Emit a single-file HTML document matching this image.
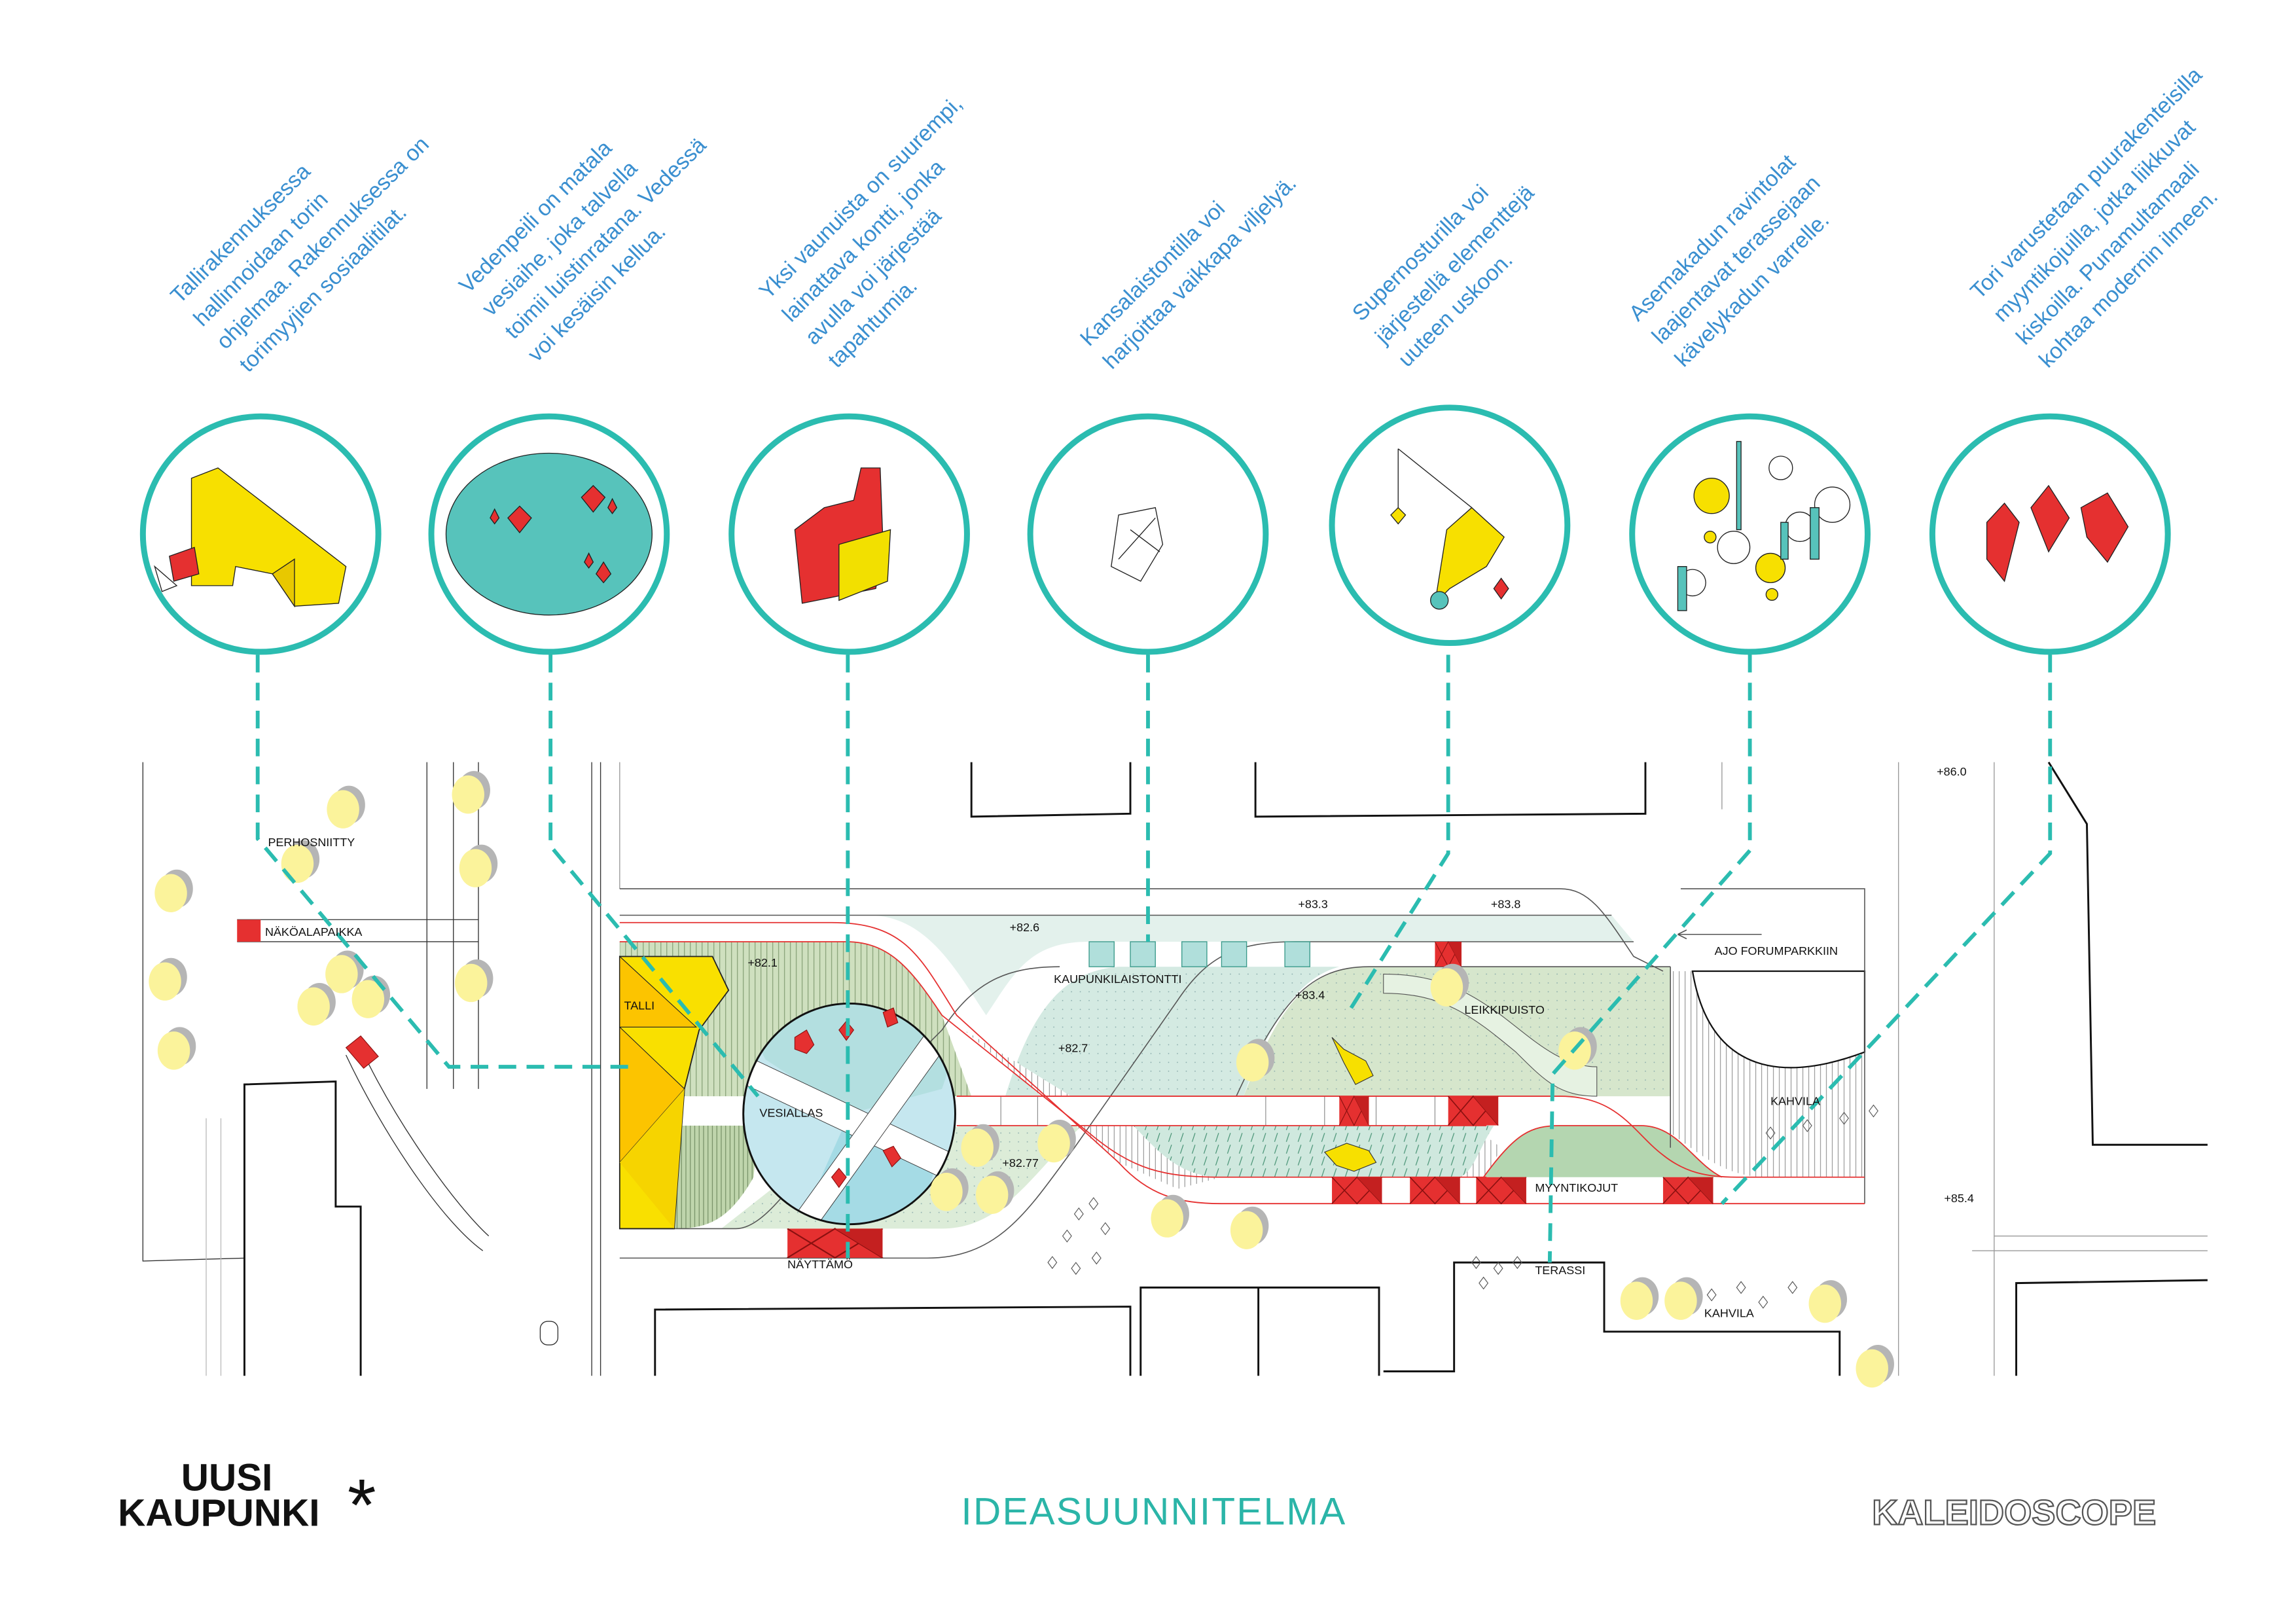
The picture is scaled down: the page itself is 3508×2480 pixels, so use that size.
<!DOCTYPE html>
<html><head><meta charset="utf-8"><style>
html,body{margin:0;padding:0;background:#fff;}
svg{display:block;}
text{font-family:"Liberation Sans",sans-serif;}
.lbl{font-size:8px;fill:#111;}
.q{font-size:15px;fill:#3a8fd0;}
</style></head><body>
<svg xmlns="http://www.w3.org/2000/svg" width="3508" height="2480" viewBox="0 0 1560 1103">
<defs>
<pattern id="vh" width="4" height="4" patternUnits="userSpaceOnUse"><rect width="4" height="4" fill="#cfe0bf"/><line x1="1" y1="0" x2="1" y2="4" stroke="#7f9a6f" stroke-width="0.5"/></pattern>
<pattern id="vh2" width="3" height="4" patternUnits="userSpaceOnUse"><rect width="3" height="4" fill="#bfd5ac"/><line x1="1" y1="0" x2="1" y2="4" stroke="#6f8a60" stroke-width="0.5"/></pattern>
<pattern id="vw" width="4" height="4" patternUnits="userSpaceOnUse"><rect width="4" height="4" fill="#fff"/><line x1="1" y1="0" x2="1" y2="4" stroke="#777" stroke-width="0.4"/></pattern>
<pattern id="dh" width="8" height="8" patternUnits="userSpaceOnUse"><rect width="8" height="8" fill="#cfe8de"/><line x1="2" y1="8" x2="4" y2="2" stroke="#3a8a6a" stroke-width="0.5"/></pattern>
<pattern id="dt" width="6" height="6" patternUnits="userSpaceOnUse"><rect width="6" height="6" fill="#d6e6cc"/><circle cx="2" cy="2" r="0.4" fill="#8aa"/></pattern>
<pattern id="dt2" width="6" height="6" patternUnits="userSpaceOnUse"><rect width="6" height="6" fill="#d4eae2"/><circle cx="2" cy="2" r="0.4" fill="#8aa"/></pattern>
<pattern id="dt3" width="6" height="6" patternUnits="userSpaceOnUse"><rect width="6" height="6" fill="#dcecd8"/><circle cx="2" cy="2" r="0.4" fill="#8aa"/></pattern>
<clipPath id="cc"><ellipse cx="577" cy="757" rx="72" ry="75"/></clipPath>
<g id="tree"><ellipse cx="4" cy="-3" rx="11" ry="13" fill="#b5b5b5"/><ellipse cx="0" cy="0" rx="11" ry="13" fill="#fbf39b"/></g>
<g id="kiosk"><rect width="34" height="18" fill="#e53030"/><path d="M0 0 L17 18 L34 0 M0 18 L17 0 L34 18" stroke="#8a1010" stroke-width="0.7" fill="none"/><path d="M17 0 L34 18 L34 0Z" fill="#c42020"/></g>
</defs>

<!-- quotes -->
<g class="q">
<text transform="translate(122,207) rotate(-45)"><tspan x="0" y="0">Tallirakennuksessa</tspan><tspan x="0" y="22">hallinnoidaan torin</tspan><tspan x="0" y="44">ohjelmaa. Rakennuksessa on</tspan><tspan x="0" y="66">torimyyjien sosiaalitilat.</tspan></text>
<text transform="translate(318,200) rotate(-45)"><tspan x="0" y="0">Vedenpeili on matala</tspan><tspan x="0" y="22">vesiaihe, joka talvella</tspan><tspan x="0" y="44">toimii luistinratana. Vedessä</tspan><tspan x="0" y="66">voi kesäisin kellua.</tspan></text>
<text transform="translate(522,204) rotate(-45)"><tspan x="0" y="0">Yksi vaunuista on suurempi,</tspan><tspan x="0" y="22">lainattava kontti, jonka</tspan><tspan x="0" y="44">avulla voi järjestää</tspan><tspan x="0" y="66">tapahtumia.</tspan></text>
<text transform="translate(740,236) rotate(-45)"><tspan x="0" y="0">Kansalaistontilla voi</tspan><tspan x="0" y="22">harjoittaa vaikkapa viljelyä.</tspan></text>
<text transform="translate(925,219) rotate(-45)"><tspan x="0" y="0">Supernosturilla voi</tspan><tspan x="0" y="22">järjestellä elementtejä</tspan><tspan x="0" y="44">uuteen uskoon.</tspan></text>
<text transform="translate(1113,219) rotate(-45)"><tspan x="0" y="0">Asemakadun ravintolat</tspan><tspan x="0" y="22">laajentavat terassejaan</tspan><tspan x="0" y="44">kävelykadun varrelle.</tspan></text>
<text transform="translate(1345,204) rotate(-45)"><tspan x="0" y="0">Tori varustetaan puurakenteisilla</tspan><tspan x="0" y="22">myyntikojuilla, jotka liikkuvat</tspan><tspan x="0" y="44">kiskoilla. Punamultamaali</tspan><tspan x="0" y="66">kohtaa modernin ilmeen.</tspan></text>
</g>

<!-- circles -->
<g fill="none" stroke="#2bbcb0" stroke-width="4">
<circle cx="177" cy="363" r="80"/><circle cx="373" cy="363" r="80"/><circle cx="577" cy="363" r="80"/><circle cx="780" cy="363" r="80"/><circle cx="985" cy="357" r="80"/><circle cx="1189" cy="363" r="80"/><circle cx="1393" cy="363" r="80"/>
</g>
<!-- icons -->
<g stroke="#222" stroke-width="0.6">
<path d="M130 325 L148 318 L235 385 L230 410 L200 412 L185 390 L160 385 L158 398 L130 398Z" fill="#f7e000"/>
<path d="M185 390 L200 412 L200 380Z" fill="#e8c800"/>
<path d="M115 378 L132 372 L135 390 L118 395Z" fill="#e53030"/>
<path d="M105 385 L120 398 L110 402Z" fill="#fff"/>
<ellipse cx="373" cy="363" rx="70" ry="55" fill="#57c3bb"/>
<path d="M345 352 l8-8 l8 8 l-8 10z M395 338 l8-8 l8 8 l-8 10z M333 352 l3-6 l3 6 l-3 4z M413 345 l3-6 l3 6 l-3 4z M405 390 l5-8 l5 8 l-5 6z M397 382 l3-6 l3 6 l-3 4z" fill="#e53030"/>
<path d="M540 360 L560 345 L580 340 L585 318 L598 318 L600 372 L595 400 L545 410Z" fill="#e53030"/>
<path d="M570 370 L605 360 L603 395 L570 408Z" fill="#f2e000"/>
<path d="M760 350 L785 345 L790 370 L775 395 L755 385Z M768 360 L788 375 M760 380 L785 352" fill="none"/>
<path d="M975 410 L983 360 L1000 345 L1022 365 L1010 385 L985 400Z" fill="#f7e000"/>
<path d="M950 305 L1000 345 M950 305 L950 350" fill="none"/>
<circle cx="978" cy="408" r="6" fill="#57c3bb"/>
<path d="M945 350 l5-5 l5 5 l-5 6z" fill="#f7e000"/>
<path d="M1015 400 l5-7 l5 7 l-5 7z" fill="#e53030"/>
<circle cx="1163" cy="337" r="12" fill="#f7e000"/><circle cx="1203" cy="386" r="10" fill="#f7e000"/><circle cx="1162" cy="365" r="4" fill="#f7e000"/><circle cx="1204" cy="404" r="4" fill="#f7e000"/>
<circle cx="1245" cy="343" r="12" fill="#fff"/><circle cx="1223" cy="358" r="10" fill="#fff"/><circle cx="1178" cy="372" r="11" fill="#fff"/><circle cx="1150" cy="396" r="9" fill="#fff"/><circle cx="1210" cy="318" r="8" fill="#fff"/>
<path d="M1180 300 l3 0 l0 60 l-3 0z M1230 345 l6 0 l0 35 l-6 0z M1140 385 l6 0 l0 30 l-6 0z M1210 355 l5 0 l0 25 l-5 0z" fill="#57c3bb"/>
<path d="M1350 355 L1362 342 L1372 355 L1362 395 L1350 380Z" fill="#e53030"/>
<path d="M1380 345 L1392 330 L1406 352 L1392 375 Z" fill="#e53030"/>
<path d="M1414 345 L1432 335 L1446 358 L1432 382 L1418 365Z" fill="#e53030"/>
</g>

<!-- buildings / context -->
<g fill="none" stroke="#333" stroke-width="0.6">
<path d="M97 518 L97 857 L166 855"/>
<path d="M290 518 L290 740"/><path d="M308 518 L308 740 M325 518 L325 740"/>
<path d="M402 518 L402 935 M408 518 L408 935"/>
<path d="M161 625 L325 625 M161 640 L325 640"/>
<path d="M235 717 C260 770 300 830 328 850 M245 712 C270 765 310 820 332 840"/>
<path d="M421 518 L421 604 M1170 518 L1170 550 M1290 518 L1290 935" stroke="#999"/>
<path d="M1355 518 L1355 935" stroke="#999"/>
<path d="M1340 850 L1500 850 M1355 840 L1500 840" stroke="#999"/>
<path d="M140 760 L140 935 M150 760 L150 935" stroke="#bbb"/>
<rect x="367" y="898" width="12" height="16" rx="5"/>
</g>
<g fill="none" stroke="#111" stroke-width="1.3">
<path d="M166 935 L166 737 L228 735 L228 820 L245 820 L245 935"/>
<path d="M660 518 L660 555 L768 553 L768 518"/>
<path d="M853 518 L853 555 L1118 553 L1118 518"/>
<path d="M1392 518 L1418 560 L1422 778 L1500 778"/>
<path d="M445 935 L445 890 L768 888 L768 935"/>
<path d="M775 935 L775 875 L937 875 L937 935 M855 875 L855 935"/>
<path d="M940 932 L988 932 L988 858 L1090 858 L1090 905 L1250 905 L1250 935"/>
<path d="M1370 935 L1370 872 L1500 870"/>
</g>

<!-- plaza -->
<path d="M421 604 L1060 604 C1080 604 1090 615 1100 635 L1130 660 L1135 818 L421 855Z" fill="#fff"/>
<path d="M590 622 L1095 622 L1110 640 L740 640 C700 640 690 660 670 690 C650 660 630 622 590 622Z" fill="#e3f1ec"/>
<path d="M421 640 L575 640 C605 640 620 660 640 690 L660 745 L421 745Z" fill="url(#vh)"/>
<path d="M458 765 L515 765 L512 800 C495 830 480 835 458 835Z" fill="url(#vh2)"/>
<path d="M490 835 L640 835 C680 835 700 800 735 765 L655 765 L560 780 Z" fill="url(#dt3)"/>
<path d="M683 745 C700 690 720 660 760 657 L910 657 C880 665 860 700 845 745 Z" fill="url(#dt2)"/>
<path d="M845 745 C870 680 890 660 925 657 L1135 657 L1135 745 Z" fill="url(#dt)"/>
<path d="M655 700 L760 790 L800 808 L830 800 L1010 800 L1020 780 L1000 765 L760 765 Z" fill="url(#vw)"/>
<path d="M770 765 L1015 765 C1005 780 1000 800 990 800 L830 800 C800 800 785 780 770 765Z" fill="url(#dh)"/>
<path d="M1008 800 C1030 770 1040 765 1060 765 L1115 765 C1140 765 1150 790 1170 800 Z" fill="#b4d6b0"/>
<path d="M940 675 C980 675 1000 690 1030 715 C1050 735 1060 745 1085 745 L1085 725 C1060 725 1040 705 1020 690 C995 672 975 662 940 662Z" fill="#e6f2e2" stroke="#555" stroke-width="0.5"/>
<path d="M1135 660 L1267 660 L1267 800 L1200 800 C1170 800 1150 780 1135 770Z" fill="url(#vw)"/>
<path d="M1150 660 C1160 720 1200 740 1267 715 L1267 660Z" fill="#fff" stroke="#111" stroke-width="1"/>
<!-- white road strips -->
<rect x="650" y="745" width="410" height="20" fill="#fff"/>
<g stroke="#888" stroke-width="0.5"><path d="M680 745v20 M705 745v20 M860 745v20 M900 745v20 M935 745v20 M975 745v20"/></g>
<!-- grey road lines -->
<g fill="none" stroke="#555" stroke-width="0.7">
<path d="M421 604 L1060 604 C1080 604 1090 620 1110 650 L1130 660"/>
<path d="M421 622 L1095 622"/>
<path d="M1142 604 L1267 604 L1267 818"/>
<path d="M421 855 L630 855 C680 855 700 820 730 780 L800 680 C820 650 840 640 880 640 L1110 640"/>
<path d="M421 835 L500 835 C520 835 540 800 560 780 L640 700 C660 670 680 657 720 657"/>
<path d="M840 745 C870 680 890 657 930 657 L1135 657"/>
<path d="M1135 657 L1135 780"/>
<path d="M1140 635 L1197 635 M1140 635 l6 -3 M1140 635 l6 3"/>
</g>
<!-- red lines -->
<g fill="none" stroke="#e53030" stroke-width="0.8">
<path d="M421 627 L565 627 C615 627 625 650 650 690 L760 790 C780 812 800 818 830 818 L1267 818"/>
<path d="M421 640 L575 640 C605 640 620 660 640 690 L740 770 C770 795 790 800 830 800 L1010 800"/>
<path d="M650 745 L1060 745 C1100 745 1110 770 1130 785 C1145 797 1160 800 1180 800 L1267 800"/>
<path d="M650 765 L1010 765"/>
<path d="M1008 800 C1030 770 1040 765 1060 765 L1115 765 C1140 765 1150 790 1170 800"/>
</g>
<!-- vesiallas -->
<g clip-path="url(#cc)">
<rect x="500" y="680" width="160" height="160" fill="#c5e7ef"/>
<path d="M500 680 L660 680 L640 740 L577 757 L520 720Z" fill="#b3dfe0"/>
<path d="M577 757 L640 780 L620 840 L540 840Z" fill="#a5dbe5"/>
<path d="M470 700 L660 790 L660 810 L470 720Z" fill="#fff" stroke="#333" stroke-width="0.4"/>
<path d="M530 840 L645 680 L665 680 L550 840Z" fill="#fff" stroke="#333" stroke-width="0.4"/>
</g>
<ellipse cx="577" cy="757" rx="72" ry="75" fill="none" stroke="#111" stroke-width="1.3"/>
<g fill="#e53030" stroke="#8a1010" stroke-width="0.5">
<path d="M540 705 l8-5 l5 10 l-5 6 l-8-3z"/><path d="M570 700 l5-6 l5 6 l-5 7z"/><path d="M600 688 l7-3 l3 10 l-7 3z"/><path d="M600 782 l7-3 l5 8 l-6 6z"/><path d="M565 800 l5-6 l5 6 l-5 7z"/>
</g>
<!-- talli -->
<path d="M421 650 L484 650 L495 673 L475 700 L465 740 L458 835 L421 835Z" fill="#f9e000" stroke="#222" stroke-width="0.8"/>
<path d="M421 650 L473 698 L421 698Z M421 698 L465 740 L421 790Z" fill="#fcc400" stroke="#222" stroke-width="0.5"/>
<path d="M421 790 L465 740 L458 835 Z" fill="#f6d400"/>
<!-- kiosks -->
<use href="#kiosk" transform="translate(975,640) scale(0.53,0.94)"/>
<use href="#kiosk" transform="translate(910,745) scale(0.59,1.1)"/>
<use href="#kiosk" transform="translate(984,745) scale(1,1.1)"/>
<use href="#kiosk" transform="translate(905,800)"/>
<use href="#kiosk" transform="translate(958,800)"/>
<use href="#kiosk" transform="translate(1003,800)"/>
<use href="#kiosk" transform="translate(1130,800)"/>
<use href="#kiosk" transform="translate(535,835) scale(1.9,1.1)"/>
<rect x="161" y="625" width="16" height="15" fill="#e53030"/>
<path d="M235 712 l10-8 l12 14 l-10 8z" fill="#e53030" stroke="#8a1010" stroke-width="0.5"/>
<g fill="#b0dfdb" stroke="#3a9a8a" stroke-width="0.6"><rect x="740" y="640" width="17" height="17"/><rect x="768" y="640" width="17" height="17"/><rect x="803" y="640" width="17" height="17"/><rect x="830" y="640" width="17" height="17"/><rect x="873" y="640" width="17" height="17"/></g>
<!-- yellow figures -->
<path d="M905 705 l8 8 l15 8 l5 10 l-12 6 l-8-15z" fill="#f7e000" stroke="#333" stroke-width="0.5"/>
<path d="M900 783 l15-6 l15 5 l5 8 l-15 6 l-12-4z" fill="#f7e000" stroke="#333" stroke-width="0.5"/>
<!-- trees -->
<g>
<use href="#tree" x="233" y="550"/><use href="#tree" x="318" y="540"/><use href="#tree" x="202" y="587"/><use href="#tree" x="323" y="590"/><use href="#tree" x="116" y="607"/><use href="#tree" x="112" y="667"/><use href="#tree" x="232" y="662"/><use href="#tree" x="213" y="684"/><use href="#tree" x="250" y="679"/><use href="#tree" x="320" y="668"/><use href="#tree" x="118" y="714"/><use href="#tree" x="851" y="722"/><use href="#tree" x="983" y="671"/><use href="#tree" x="1070" y="714"/><use href="#tree" x="664" y="780"/><use href="#tree" x="716" y="777"/><use href="#tree" x="643" y="810"/><use href="#tree" x="674" y="812"/><use href="#tree" x="793" y="828"/><use href="#tree" x="847" y="836"/><use href="#tree" x="1112" y="884"/><use href="#tree" x="1142" y="884"/><use href="#tree" x="1240" y="886"/><use href="#tree" x="1272" y="930"/>
</g>
<g fill="none" stroke="#555" stroke-width="0.5">
<path d="M730 825 l3-4 l3 4 l-3 4z M740 818 l3-4 l3 4 l-3 4z M722 840 l3-4 l3 4 l-3 4z M748 835 l3-4 l3 4 l-3 4z M712 858 l3-4 l3 4 l-3 4z M728 862 l3-4 l3 4 l-3 4z M742 855 l3-4 l3 4 l-3 4z M1000 858 l3-4 l3 4 l-3 4z M1015 862 l3-4 l3 4 l-3 4z M1028 858 l3-4 l3 4 l-3 4z M1005 872 l3-4 l3 4 l-3 4z M1160 880 l3-4 l3 4 l-3 4z M1180 875 l3-4 l3 4 l-3 4z M1195 885 l3-4 l3 4 l-3 4z M1215 875 l3-4 l3 4 l-3 4z M1200 770 l3-4 l3 4 l-3 4z M1225 765 l3-4 l3 4 l-3 4z M1250 760 l3-4 l3 4 l-3 4z M1270 755 l3-4 l3 4 l-3 4z"/>
</g>
<!-- dashed connectors -->
<g fill="none" stroke="#2bbcb0" stroke-width="2.6" stroke-dasharray="12 7">
<path d="M175 445 L175 570 L305 725 L432 725"/>
<path d="M374 445 L374 575 L515 745"/>
<path d="M576 445 L576 855"/>
<path d="M780 445 L780 640"/>
<path d="M984 445 L984 580 L918 685"/>
<path d="M1189 445 L1189 578 L1055 730 L1053 858"/>
<path d="M1393 445 L1393 580 L1170 818"/>
</g>
<!-- labels -->
<g class="lbl">
<text x="182" y="575">PERHOSNIITTY</text><text x="180" y="636">NÄKÖALAPAIKKA</text><text x="424" y="686">TALLI</text>
<text x="508" y="657">+82.1</text><text x="686" y="633">+82.6</text><text x="882" y="617">+83.3</text><text x="1013" y="617">+83.8</text>
<text x="716" y="668">KAUPUNKILAISTONTTI</text><text x="880" y="679">+83.4</text><text x="995" y="689">LEIKKIPUISTO</text>
<text x="719" y="715">+82.7</text><text x="1165" y="649">AJO FORUMPARKKIIN</text><text x="1203" y="751">KAHVILA</text>
<text x="516" y="759">VESIALLAS</text><text x="681" y="793">+82.77</text><text x="1043" y="810">MYYNTIKOJUT</text>
<text x="535" y="862">NÄYTTÄMÖ</text><text x="1043" y="866">TERASSI</text><text x="1158" y="895">KAHVILA</text>
<text x="1316" y="527">+86.0</text><text x="1321" y="817">+85.4</text>
</g>
<!-- footer -->
<text x="123" y="1013" font-size="26" font-weight="bold" fill="#111">UUSI</text>
<text x="80" y="1037" font-size="26" font-weight="bold" fill="#111">KAUPUNKI</text>
<text x="236" y="1040" font-size="50" fill="#111">*</text>
<text x="784" y="1036" font-size="26" fill="#2bb5a8" text-anchor="middle" letter-spacing="1">IDEASUUNNITELMA</text>
<text x="1272" y="1036" font-size="24" font-weight="bold" fill="#fff" stroke="#555" stroke-width="1" textLength="193" lengthAdjust="spacingAndGlyphs">KALEIDOSCOPE</text>
</svg>
</body></html>
